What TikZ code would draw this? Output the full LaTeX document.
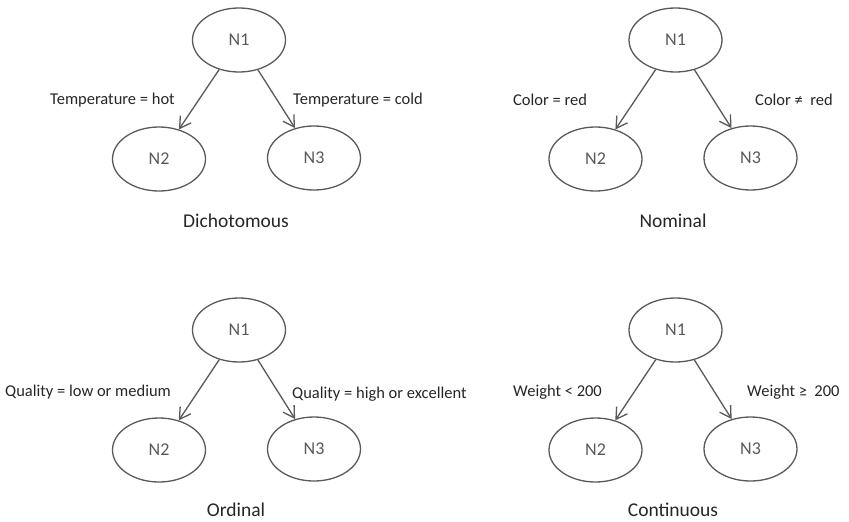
\documentclass[tikz,border=0pt]{standalone}
\usepackage{fontspec}
\setmainfont{Carlito}
\usetikzlibrary{arrows.meta, positioning, shapes.geometric}
\definecolor{cLine}{HTML}{595959}
\definecolor{cText}{HTML}{262626}

\begin{document}
\begin{tikzpicture}[x=1pt, y=-1pt,
      nd/.style  = {ellipse, draw=cLine, line width=1.3pt, minimum width=93pt, minimum height=64pt, inner sep=0pt, text=cLine, font=\fontsize{18}{20}\selectfont},
      ar/.style  = {-{Straight Barb[length=11pt, width=13pt]}, draw=cLine, line width=1.3pt},
      lb/.style  = {anchor=west, inner sep=0pt, text=cText, font=\fontsize{16.5}{18}\selectfont},
      ttl/.style = {inner sep=0pt, text=cText, font=\fontsize{19.5}{22}\selectfont} ]
    \useasboundingbox (0,0) rectangle (849,522);

    % Dichotomous
    \node[nd] (d1) at (239,40) {N1};
    \node[nd] (d2) at (159,159) {N2};
    \node[nd] (d3) at (314,158) {N3};
    \draw[ar] (d1) -- (d2);  \draw[ar] (d1) -- (d3);
    \node[lb] (dl) at (50,100) {Temperature = hot};
    \node[lb] (dr) at (293,100) {Temperature = cold};
    \node[ttl] (dt) at (236,221) {Dichotomous};

    % Nominal
    \node[nd] (m1) at (675.5,40) {N1};
    \node[nd] (m2) at (595.5,159) {N2};
    \node[nd] (m3) at (750.5,158) {N3};
    \draw[ar] (m1) -- (m2);  \draw[ar] (m1) -- (m3);
    \node[lb] (ml) at (513,100) {Color = red};
    \node[lb] (mr) at (755,100) {Color ≠~ red};
    \node[ttl] (mt) at (673,221) {Nominal};

    % Ordinal
    \node[nd] (o1) at (239,330) {N1};
    \node[nd] (o2) at (159,450) {N2};
    \node[nd] (o3) at (314,449) {N3};
    \draw[ar] (o1) -- (o2);  \draw[ar] (o1) -- (o3);
    \node[lb] (ol) at (5,392) {Quality = low or medium};
    \node[lb] (or) at (292,394) {Quality = high or excellent};
    \node[ttl] (ot) at (236,510) {Ordinal};

    % Continuous
    \node[nd] (c1) at (675.5,330) {N1};
    \node[nd] (c2) at (595.5,450) {N2};
    \node[nd] (c3) at (750.5,449) {N3};
    \draw[ar] (c1) -- (c2);  \draw[ar] (c1) -- (c3);
    \node[lb] (cl) at (513,392) {Weight < 200};
    \node[lb] (cr) at (747,392) {Weight ≥~ 200};
    \node[ttl] (ct) at (673,510) {Continuous};
  \end{tikzpicture}
\end{document}
